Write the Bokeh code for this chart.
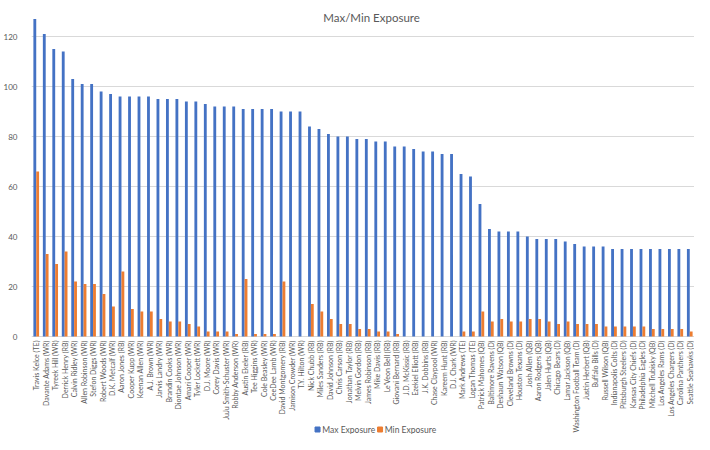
from bokeh.plotting import figure
from bokeh.models import Label, LabelSet, ColumnDataSource, FixedTicker
from bokeh.core.properties import value
from bokeh.transform import dodge
from bokeh.embed import file_html
from bokeh.resources import INLINE
from math import pi

players = [
    "Travis Kelce (TE)", "Davante Adams (WR)", "Tyreek Hill (WR)", "Derrick Henry (RB)",
    "Calvin Ridley (WR)", "Allen Robinson (WR)", "Stefon Diggs (WR)", "Robert Woods (WR)",
    "D.K. Metcalf (WR)", "Aaron Jones (RB)", "Cooper Kupp (WR)", "Keenan Allen (WR)",
    "A.J. Brown (WR)", "Jarvis Landry (WR)", "Brandin Cooks (WR)", "Diontae Johnson (WR)",
    "Amari Cooper (WR)", "Tyler Lockett (WR)", "D.J. Moore (WR)", "Corey Davis (WR)",
    "JuJu Smith-Schuster (WR)", "Robby Anderson (WR)", "Austin Ekeler (RB)", "Tee Higgins (WR)",
    "Cole Beasley (WR)", "CeeDee Lamb (WR)", "David Montgomery (RB)", "Jamison Crowder (WR)",
    "T.Y. Hilton (WR)", "Nick Chubb (RB)", "Miles Sanders (RB)", "David Johnson (RB)",
    "Chris Carson (RB)", "Jonathan Taylor (RB)", "Melvin Gordon (RB)", "James Robinson (RB)",
    "Mike Davis (RB)", "Le'Veon Bell (RB)", "Giovani Bernard (RB)", "J.D. McKissic (RB)",
    "Ezekiel Elliott (RB)", "J.K. Dobbins (RB)", "Chase Claypool (WR)", "Kareem Hunt (RB)",
    "D.J. Chark (WR)", "Mark Andrews (TE)", "Logan Thomas (TE)", "Patrick Mahomes (QB)",
    "Baltimore Ravens (D)", "Deshaun Watson (QB)", "Cleveland Browns (D)", "Houston Texans (D)",
    "Josh Allen (QB)", "Aaron Rodgers (QB)", "Jalen Hurts (QB)", "Chicago Bears (D)",
    "Lamar Jackson (QB)", "Washington Football Team (D)", "Justin Herbert (QB)", "Buffalo Bills (D)",
    "Russell Wilson (QB)", "Indianapolis Colts (D)", "Pittsburgh Steelers (D)", "Kansas City Chiefs (D)",
    "Philadelphia Eagles (D)", "Mitchell Trubisky (QB)", "Los Angeles Rams (D)", "Los Angeles Chargers (D)",
    "Carolina Panthers (D)", "Seattle Seahawks (D)",
]

max_exposure = [
    127, 121, 115, 114, 103, 101, 101, 98, 97, 96,
    96, 96, 96, 95, 95, 95, 94, 94, 93, 92,
    92, 92, 91, 91, 91, 91, 90, 90, 90, 84,
    83, 81, 80, 80, 79, 79, 78, 78, 76, 76,
    75, 74, 74, 73, 73, 65, 64, 53, 43, 42,
    42, 42, 40, 39, 39, 39, 38, 37, 36, 36,
    36, 35, 35, 35, 35, 35, 35, 35, 35, 35,
]

min_exposure = [
    66, 33, 29, 34, 22, 21, 21, 17, 12, 26,
    11, 10, 10, 7, 6, 6, 5, 4, 2, 2,
    2, 1, 23, 1, 1, 1, 22, 0, 0, 13,
    10, 7, 5, 5, 3, 3, 2, 2, 1, 0,
    0, 0, 0, 0, 0, 2, 2, 10, 6, 7,
    6, 6, 7, 7, 6, 5, 6, 5, 5, 5,
    4, 4, 4, 4, 4, 3, 3, 3, 3, 2,
]

y_ticks = [0, 20, 40, 60, 80, 100, 120]
series_names = ["Max Exposure", "Min Exposure"]
chart_title = "Max/Min Exposure"

BLUE = "#4472C4"
ORANGE = "#ED7D31"
GRAY = "#595959"
FONT = "Lato"

src = ColumnDataSource(dict(player=players, mx=max_exposure, mn=min_exposure,
                            lab_y=[-1.6] * len(players)))

p = figure(
    x_range=players, y_range=(-39.2, 134.4),
    width=694, height=434,
    output_backend="svg", toolbar_location=None,
    min_border_left=25, min_border_right=0, min_border_top=0, min_border_bottom=0,
    outline_line_color=None,
)
p.x_range.range_padding = 0.0
p.xaxis.visible = False

p.vbar(x=dodge("player", -0.15, range=p.x_range), top="mx", width=0.3,
       source=src, color=BLUE, line_color=None)
p.vbar(x=dodge("player", 0.15, range=p.x_range), top="mn", width=0.3,
       source=src, color=ORANGE, line_color=None)

p.xgrid.grid_line_color = None
p.ygrid.grid_line_color = "#D9D9D9"
p.ygrid.ticker = FixedTicker(ticks=y_ticks)

p.yaxis.ticker = FixedTicker(ticks=y_ticks)
p.yaxis.axis_line_color = None
p.yaxis.major_tick_line_color = None
p.yaxis.minor_tick_line_color = None
p.yaxis.major_label_text_font = FONT
p.yaxis.major_label_text_font_size = "8px"
p.yaxis.major_label_text_color = GRAY
p.yaxis.major_label_standoff = 8

# category labels, rotated, hanging below the zero line
cat_labels = LabelSet(x="player", y="lab_y", text="player", source=src,
                      angle=pi / 2, text_align="right", text_baseline="middle",
                      text_font=value(FONT), text_font_size="7px",
                      text_color=GRAY)
p.add_layout(cat_labels)

title = Label(x=35.9, y=127.6, text=chart_title, text_align="center",
              text_baseline="middle", text_font=FONT, text_font_size="11.5px",
              text_color=GRAY)
p.add_layout(title)

# legend below the category labels
leg_y = -37.2
p.scatter(x=[30.2], y=[leg_y], marker="square", size=5, color=BLUE)
p.scatter(x=[36.8], y=[leg_y], marker="square", size=5, color=ORANGE)
p.add_layout(Label(x=30.7, y=leg_y, text=series_names[0], text_align="left",
                   text_baseline="middle", text_font=FONT, text_font_size="8.5px",
                   text_color=GRAY))
p.add_layout(Label(x=37.3, y=leg_y, text=series_names[1], text_align="left",
                   text_baseline="middle", text_font=FONT, text_font_size="8.5px",
                   text_color=GRAY))

open("out.html", "w").write(file_html(p, INLINE))
